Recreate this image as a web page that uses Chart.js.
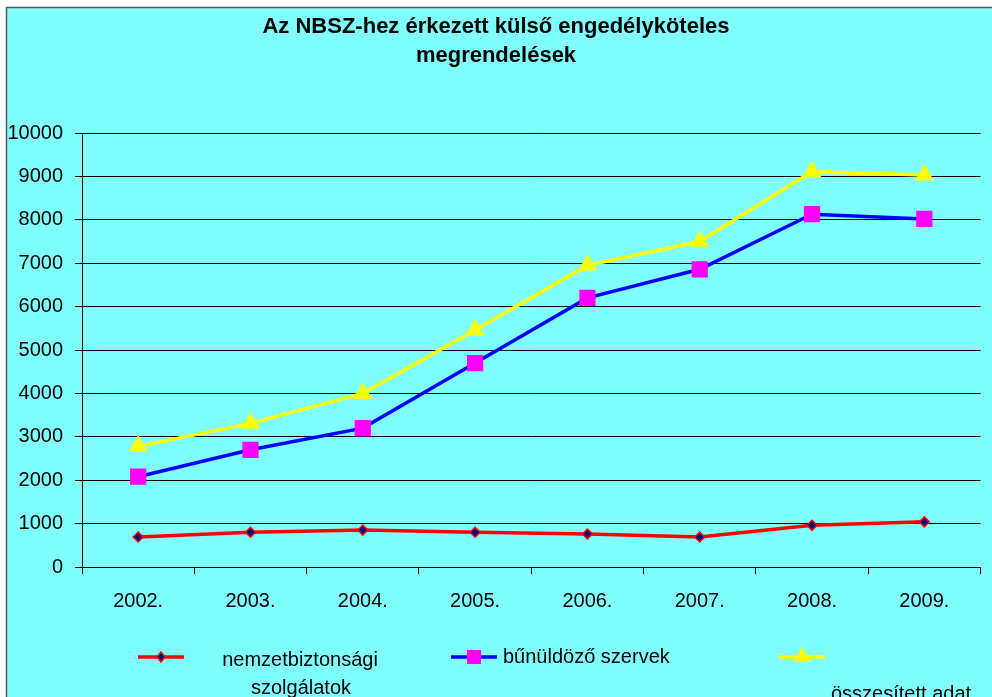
<!DOCTYPE html>
<html>
<head>
<meta charset="utf-8">
<script src="https://cdn.jsdelivr.net/npm/chart.js"></script>
<style>
  body { margin: 0; background: #fff; overflow: hidden; }
  #wrap { position: relative; width: 992px; height: 697px; }
</style>
</head>
<body>
<div id="wrap"><canvas id="lineChart" width="992" height="697"></canvas></div>
<script>
// adatok
const years = ['2002.', '2003.', '2004.', '2005.', '2006.', '2007.', '2008.', '2009.'];
const nemzetbiztonsagi = [690, 800, 850, 800, 760, 690, 960, 1040];
const bunuldozo = [2080, 2700, 3200, 4700, 6200, 6860, 8130, 8020];
const osszesitett = [2780, 3310, 4000, 5460, 6950, 7500, 9110, 9030];
const seriesNames = ['nemzetbiztonsági szolgálatok', 'bűnüldöző szervek', 'összesített adat'];
const titleLines = ['Az NBSZ-hez érkezett külső engedélyköteles', 'megrendelések'];

const FONT = '"Liberation Sans", Arial, sans-serif';

// háttér, keret
const bgPlugin = {
  id: 'bg',
  beforeDraw(chart) {
    const ctx = chart.ctx;
    ctx.save();
    ctx.fillStyle = '#ffffff';
    ctx.fillRect(0, 0, chart.width, chart.height);
    ctx.fillStyle = '#80ffff';
    ctx.fillRect(6, 8, chart.width - 6, chart.height - 8);
    ctx.strokeStyle = '#555555';
    ctx.lineWidth = 1.5;
    ctx.beginPath();
    ctx.moveTo(6.5, chart.height);
    ctx.lineTo(6.5, 7.5);
    ctx.lineTo(chart.width, 7.5);
    ctx.stroke();
    ctx.restore();
  }
};

function marker(ctx, style, x, y, fill, stroke) {
  ctx.fillStyle = fill;
  ctx.strokeStyle = stroke;
  ctx.lineWidth = 1.5;
  ctx.beginPath();
  if (style === 'rectRot') {
    ctx.moveTo(x, y - 5); ctx.lineTo(x + 4, y); ctx.lineTo(x, y + 5); ctx.lineTo(x - 4, y);
    ctx.closePath(); ctx.fill(); ctx.stroke();
  } else if (style === 'rect') {
    ctx.rect(x - 7, y - 7, 14, 14); ctx.fill();
  } else {
    ctx.moveTo(x, y - 10); ctx.lineTo(x + 9, y + 5); ctx.lineTo(x - 9, y + 5);
    ctx.closePath(); ctx.fill();
  }
}

// cím + jelmagyarázat
const textPlugin = {
  id: 'texts',
  afterDraw(chart) {
    const ctx = chart.ctx;
    ctx.save();
    ctx.fillStyle = '#000';
    ctx.textAlign = 'center';
    ctx.textBaseline = 'alphabetic';
    ctx.font = 'bold 22px ' + FONT;
    ctx.fillText(titleLines[0], 496, 33);
    ctx.fillText(titleLines[1], 496, 62);

    const ds = chart.data.datasets;
    const items = [
      { x1: 138, x2: 184 },
      { x1: 451, x2: 497 },
      { x1: 779, x2: 825 }
    ];
    const ly = 657;
    items.forEach((it, i) => {
      const d = ds[i];
      ctx.strokeStyle = d.borderColor;
      ctx.lineWidth = d.borderWidth;
      ctx.beginPath();
      ctx.moveTo(it.x1, ly);
      ctx.lineTo(it.x2, ly);
      ctx.stroke();
      marker(ctx, d.pointStyle, (it.x1 + it.x2) / 2, ly, d.pointBackgroundColor, d.pointBorderColor);
    });
    ctx.fillStyle = '#000';
    ctx.font = '20px ' + FONT;
    ctx.textBaseline = 'middle';
    ctx.textAlign = 'center';
    ctx.fillText('nemzetbiztonsági', 300, 660);
    ctx.fillText('szolgálatok', 301, 688);
    ctx.textAlign = 'left';
    ctx.fillText(seriesNames[1], 503, 657);
    ctx.fillText(seriesNames[2], 831, 694);
    ctx.restore();
  }
};

const ctx = document.getElementById('lineChart').getContext('2d');
const lineChart = new Chart(ctx, {
  type: 'line',
  data: {
    labels: years,
    datasets: [{
      label: seriesNames[0],
      data: nemzetbiztonsagi,
      borderColor: '#ff0000',
      borderWidth: 3.5,
      pointStyle: 'rectRot',
      pointRadius: 5,
      pointBackgroundColor: '#000080',
      pointBorderColor: '#ff0000',
      pointBorderWidth: 1.5,
      tension: 0
    }, {
      label: seriesNames[1],
      data: bunuldozo,
      borderColor: '#0000ff',
      borderWidth: 3.5,
      pointStyle: 'rect',
      pointRadius: 11.5,
      pointBackgroundColor: '#ff00ff',
      pointBorderColor: '#ff00ff',
      pointBorderWidth: 0,
      tension: 0
    }, {
      label: seriesNames[2],
      data: osszesitett,
      borderColor: '#ffff00',
      borderWidth: 3.5,
      pointStyle: 'triangle',
      pointRadius: 11,
      pointBackgroundColor: '#ffff00',
      pointBorderColor: '#ffff00',
      pointBorderWidth: 0,
      tension: 0
    }]
  },
  options: {
    responsive: false,
    devicePixelRatio: 1,
    animation: false,
    layout: { padding: { left: 0, top: 133, right: 7, bottom: 0 } },
    plugins: {
      legend: { display: false },
      title: { display: false },
      tooltip: { enabled: false }
    },
    scales: {
      x: {
        offset: true,
        grid: {
          offset: true,
          drawOnChartArea: false,
          drawTicks: true,
          tickLength: 7,
          color: '#000'
        },
        border: { color: '#000', width: 1 },
        ticks: { color: '#000', font: { family: FONT, size: 20 }, padding: 15, maxRotation: 0 },
        afterFit(scale) { scale.height = 130; }
      },
      y: {
        min: 0,
        max: 10000,
        ticks: {
          stepSize: 1000,
          color: '#000',
          font: { family: FONT, size: 20 },
          padding: 12,
          callback: (v) => String(v)
        },
        grid: { color: '#000', lineWidth: 1, tickLength: 7, drawTicks: true },
        border: { color: '#000', width: 1 },
        afterFit(scale) { scale.width = 82; }
      }
    }
  },
  plugins: [bgPlugin, textPlugin]
});
</script>
</body>
</html>
